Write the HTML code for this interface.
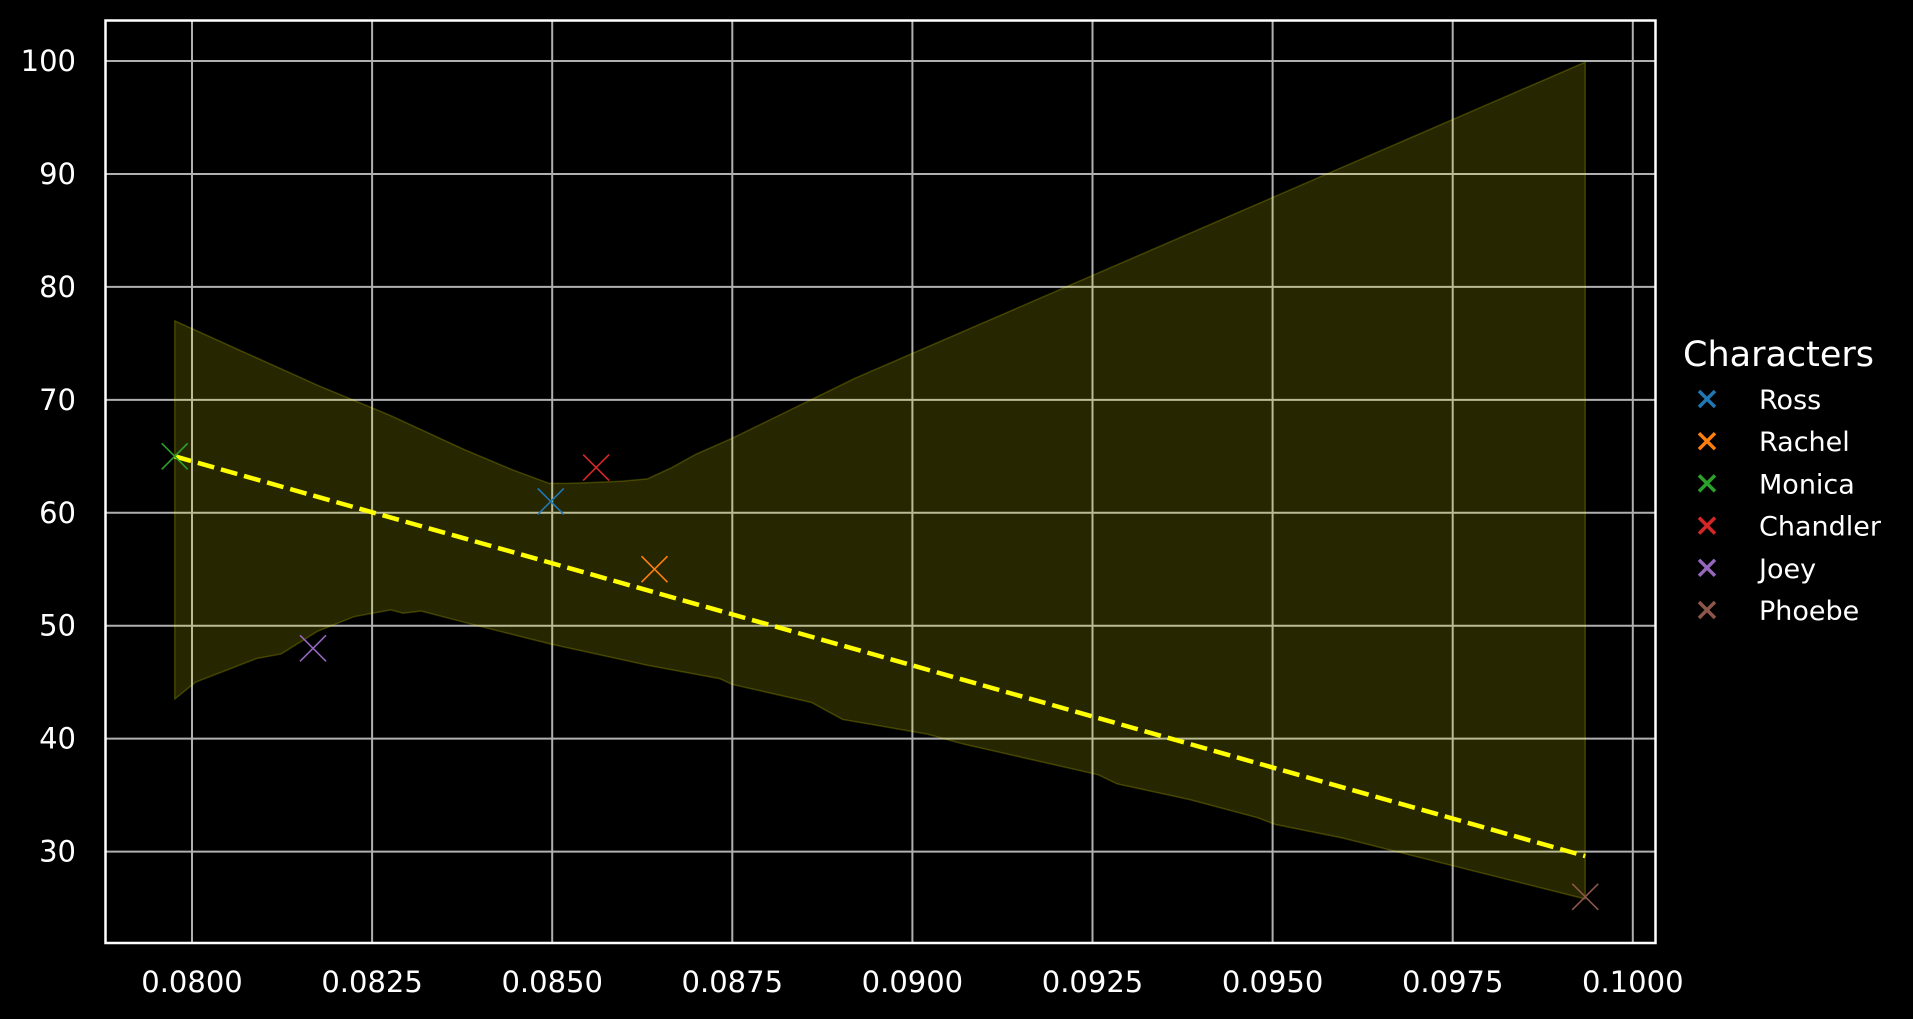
<!DOCTYPE html>
<html><head><meta charset="utf-8"><style>
html,body{margin:0;padding:0;background:#000;}
svg{display:block;font-family:"DejaVu Sans","Liberation Sans",sans-serif;}
</style></head><body>
<svg id="chart" width="1913" height="1019" viewBox="0 0 1913 1019" xmlns="http://www.w3.org/2000/svg">
<rect width="1913" height="1019" fill="#000"/>
<g id="grid"></g>
<g id="band"></g>
<g id="line"></g>
<g id="points"></g>
<rect x="105.5" y="20.5" width="1550" height="922.5" fill="none" stroke="#fff" stroke-width="2.5"/>
<g id="ticks"></g>
<g id="legend"></g>
</svg>
<script>
const xTicks=[0.0800,0.0825,0.0850,0.0875,0.0900,0.0925,0.0950,0.0975,0.1000];
const yTicks=[30,40,50,60,70,80,90,100];
const names=["Ross","Rachel","Monica","Chandler","Joey","Phoebe"];
const colors=["#1f77b4","#ff7f0e","#2ca02c","#d62728","#9467bd","#8c564b"];
const xVals=[0.08498,0.08642,0.07976,0.08561,0.08168,0.09934];
const yVals=[61,55,65,64,48,26];
const fitX=[0.07976,0.09934];
const fitY=[65,29.6];
const upperX=[0.07976,0.08073,0.08174,0.08276,0.08378,0.08445,0.08496,0.08522,0.08564,0.08598,0.08632,0.08666,0.08700,0.08750,0.08920,0.09934];
const upperY=[77.0,74.2,71.3,68.6,65.6,63.8,62.6,62.6,62.7,62.8,63.0,64.0,65.2,66.6,71.9,99.9];
const lowerX=[0.07976,0.08005,0.0809,0.08124,0.08174,0.08225,0.08276,0.08293,0.08318,0.08378,0.08496,0.08632,0.08733,0.0875,0.0886,0.08903,0.09021,0.09072,0.09258,0.09284,0.09385,0.09479,0.09504,0.09597,0.09934];
const lowerY=[43.5,45,47.1,47.5,49.5,50.8,51.4,51.1,51.3,50.3,48.4,46.5,45.3,44.8,43.2,41.7,40.4,39.5,36.8,36.0,34.6,33.0,32.4,31.2,25.8];

const NS="http://www.w3.org/2000/svg";
const X=v=>192+(v-0.08)/0.0025*180.1;
const Y=v=>61+(100-v)/10*112.94;
function mk(tag,attrs,parent){const e=document.createElementNS(NS,tag);for(const k in attrs)e.setAttribute(k,attrs[k]);parent.appendChild(e);return e;}
const grid=document.getElementById('grid'),ticks=document.getElementById('ticks');
xTicks.forEach(t=>{
  const l=mk('line',{x1:X(t),x2:X(t),y1:20.5,y2:943,stroke:'#b0b0b0','stroke-width':2},grid);
  
  
  const tx=mk('text',{x:X(t),y:992,fill:'#fff','font-size':29,'text-anchor':'middle'},ticks);
  tx.textContent=t.toFixed(4);
  
  
});
yTicks.forEach(t=>{
  const l=mk('line',{x1:105.5,x2:1655.5,y1:Y(t),y2:Y(t),stroke:'#b0b0b0','stroke-width':2},grid);
  
  
  const tx=mk('text',{x:76,y:Y(t)+10,fill:'#fff','font-size':29,'text-anchor':'end'},ticks);
  tx.textContent=t;
  
  
});
let d='M'+upperX.map((x,i)=>X(x)+','+Y(upperY[i])).join('L');
for(let i=lowerX.length-1;i>=0;i--)d+='L'+X(lowerX[i])+','+Y(lowerY[i]);
d+='Z';
const band=mk('path',{d:d,fill:'rgba(255,255,0,0.15)',stroke:'rgba(255,255,0,0.2)','stroke-width':1.5},document.getElementById('band'));


const fl=mk('line',{x1:X(fitX[0]),y1:Y(fitY[0]),x2:X(fitX[1]),y2:Y(fitY[1]),stroke:'#ffff00','stroke-width':4.5,'stroke-dasharray':'17,7'},document.getElementById('line'));


const pts=document.getElementById('points');
names.forEach((n,i)=>{
  const cx=X(xVals[i]),cy=Y(yVals[i]),s=13;
  const p=mk('path',{d:`M${cx-s},${cy-s}L${cx+s},${cy+s}M${cx-s},${cy+s}L${cx+s},${cy-s}`,stroke:colors[i],'stroke-width':1.6,fill:'none'},pts);
  
  
});
const lg=document.getElementById('legend');
const tt=mk('text',{x:1683,y:366,fill:'#fff','font-size':35},lg);
tt.textContent='Characters';


names.forEach((n,i)=>{
  const cy=399+i*42.2,cx=1707,s=8;
  const g=mk('g',{},lg);
  
  
  mk('path',{d:`M${cx-s},${cy-s}L${cx+s},${cy+s}M${cx-s},${cy+s}L${cx+s},${cy-s}`,stroke:colors[i],'stroke-width':3.5,fill:'none'},g);
  const t=mk('text',{x:1759,y:cy+10,fill:'#fff','font-size':27},g);
  t.textContent=n;
});
</script>
</body></html>
